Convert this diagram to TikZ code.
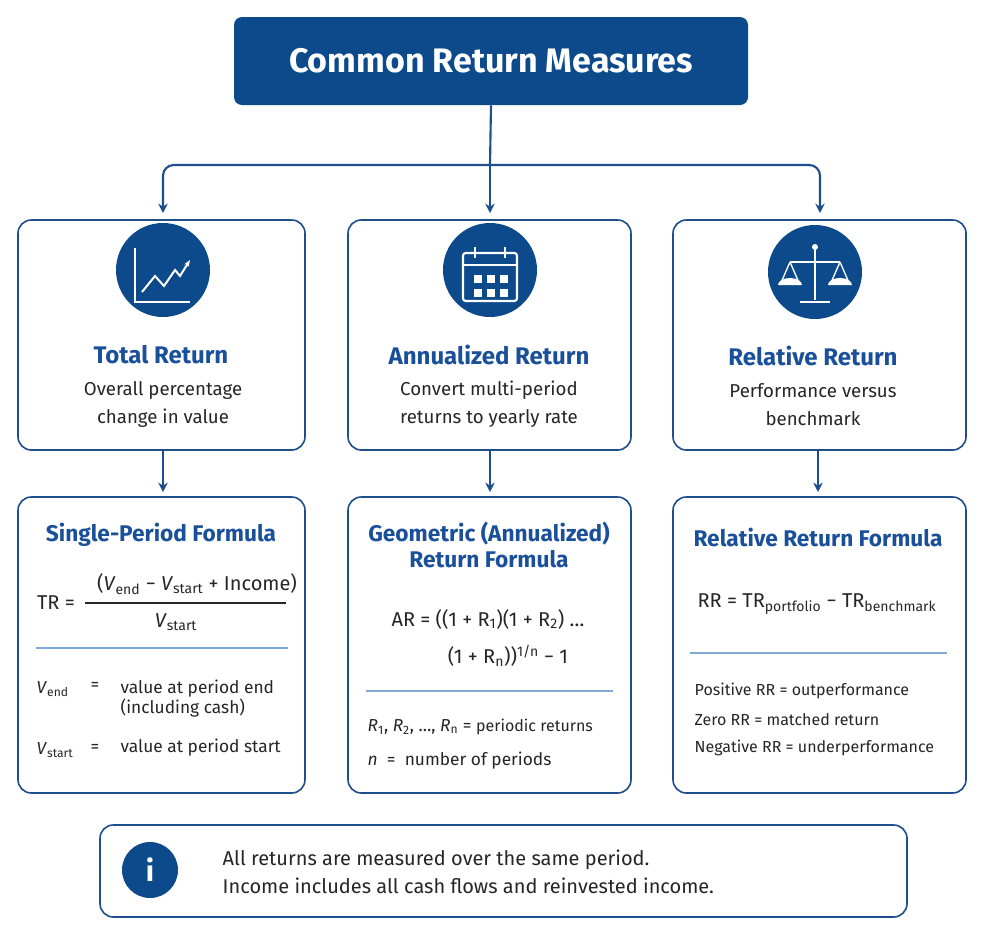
\documentclass[tikz,border=0pt]{standalone}
\usepackage{fontspec}
\setmainfont{Fira Sans}
\usetikzlibrary{arrows.meta}
\definecolor{navy}{HTML}{0D4A8C}
\definecolor{bord}{HTML}{1F4E8C}
\definecolor{ttl}{HTML}{1A4F9A}
\definecolor{rule}{HTML}{7FA9D6}
\begin{document}
\begin{tikzpicture}[x=0.75pt,y=-0.75pt,
 box/.style={draw=bord,line width=1.2pt,rounded corners=10pt,fill=white},
 conn/.style={draw=bord,line width=1.6pt,-{Stealth[length=7pt,width=7pt]}},
 ttlt/.style={font=\bfseries\fontsize{18}{20}\selectfont,text=ttl},
 sub/.style={font=\fontsize{14}{21}\selectfont,align=center,text=black!85},
 txt/.style={font=\fontsize{13}{15}\selectfont,text=black!85},
 icon/.style={circle,fill=navy,minimum size=70.5pt,inner sep=0pt}]
\useasboundingbox (0,0) rectangle (983,936);
\fill[white] (0,0) rectangle (983,936);
% title
\node[fill=navy,rounded corners=6pt,minimum width=385.5pt,minimum height=66pt,text=white,font=\bfseries\fontsize{25.5}{28}\selectfont] (title) at (491,61) {Common Return Measures};
% top boxes
\draw[box] (18,220) rectangle (305,450);
\draw[box] (348,220) rectangle (631,450);
\draw[box] (673,220) rectangle (966,450);
\coordinate (j) at (490,165);
\draw[draw=bord,line width=1.6pt,rounded corners=8pt] (title.south) -- (j);
\draw[conn,rounded corners=8pt] (j) -| (163,213);
\draw[conn,rounded corners=8pt] (j) -| (820,213);
\draw[conn] (j) -- (490,213);
% icons
\node[icon] (i1) at (163,270) {};
\node[icon] (i2) at (490,270) {};
\node[icon] (i3) at (815,272) {};
% chart icon
\draw[white,line width=1.5pt] (135,248) -- (135,302) -- (190,302);
\draw[white,line width=1.5pt,-{Stealth[length=5pt]}] (142,292) -- (155,276) -- (164,286) -- (175,270) -- (180,276) -- (190,260);
% calendar icon
\draw[white,line width=1.6pt,rounded corners=2pt] (463,253) rectangle (517,301);
\draw[white,line width=1.6pt] (463,265) -- (517,265);
\draw[white,line width=2pt] (475,247) -- (475,258) (505,247) -- (505,258);
\foreach \xx in {474,487,500} \foreach \yy in {275,289} \fill[white] (\xx,\yy) rectangle ++(8,8);
% scale icon
\draw[white,line width=1.6pt] (815,247) -- (815,300) (800,302) -- (830,302) (790,262) -- (840,262);
\fill[white] (815,247) circle (3);
\draw[white,line width=1pt] (790,262) -- (780,285) (790,262) -- (800,285) (840,262) -- (830,285) (840,262) -- (850,285);
\fill[white] (778,285) arc (180:360:12 and 7) -- cycle;
\fill[white] (828,285) arc (180:360:12 and 7) -- cycle;
% top text
\node[ttlt] (h1) at (161,355) {Total Return};
\node[sub] (s1) at (163,404) {Overall percentage\\change in value};
\node[ttlt] (h2) at (489,355) {Annualized Return};
\node[sub] (s2) at (489,404) {Convert multi-period\\returns to yearly rate};
\node[ttlt] (h3) at (813,356) {Relative Return};
\node[sub] (s3) at (813,405) {Performance versus\\benchmark};
% bottom boxes
\draw[box] (18,497) rectangle (305,793);
\draw[box] (348,497) rectangle (631,793);
\draw[box] (673,497) rectangle (966,793);
\draw[conn] (163,450) -- (163,492);
\draw[conn] (490,450) -- (490,492);
\draw[conn] (818,450) -- (818,492);
% left formula
\node[ttlt,font=\bfseries\fontsize{17}{20}\selectfont] (f1) at (161,535) {Single-Period Formula};
\node[txt,font=\fontsize{15}{18}\selectfont] (tr) at (56,603) {TR =};
\node[txt,font=\fontsize{15}{18}\selectfont] (num) at (197,584) {(\textit{V}\textsubscript{end} − \textit{V}\textsubscript{start} + Income)};
\draw[black!85,line width=0.8pt] (85,603) -- (286,603);
\node[txt,font=\fontsize{15}{18}\selectfont] (den) at (176,622) {\textit{V}\textsubscript{start}};
\draw[rule,line width=0.8pt] (36,648) -- (288,648);
\node[txt,anchor=west] (v1) at (32,689) {\textit{V}\textsubscript{end}};
\node[txt] at (95,686) {=};
\node[txt,anchor=west,align=left] (v1d) at (116,699) {value at period end\\(including cash)};
\node[txt,anchor=west] (v2) at (32,750) {\textit{V}\textsubscript{start}};
\node[txt] at (95,748) {=};
\node[txt,anchor=west] (v2d) at (116,748) {value at period start};
% middle formula
\node[ttlt,font=\bfseries\fontsize{17}{20}\selectfont,align=center] (f2) at (489,545) {Geometric (Annualized)\\Return Formula};
\node[txt,font=\fontsize{15}{18}\selectfont] (ar1) at (488,619) {AR = ((1 + R\textsubscript{1})(1 + R\textsubscript{2}) …};
\node[txt,font=\fontsize{15}{18}\selectfont] (ar2) at (508,656) {(1 + R\textsubscript{n}))\textsuperscript{1/n} − 1};
\draw[rule,line width=0.8pt] (366,691) -- (613,691);
\node[txt,anchor=west] (r) at (363,727) {\textit{R}\textsubscript{1}, \textit{R}\textsubscript{2}, …, \textit{R}\textsubscript{n} = {\fontsize{12}{14}\selectfont periodic returns}};
\node[txt,anchor=west] (nn) at (363,761) {\textit{n} \ = \ number of periods};
% right formula
\node[ttlt,font=\bfseries\fontsize{17}{20}\selectfont] (f3) at (818,537) {Relative Return Formula};
\node[txt,font=\fontsize{15}{18}\selectfont] (rr) at (817,604) {RR = TR\textsubscript{portfolio} − TR\textsubscript{benchmark}};
\draw[rule,line width=0.8pt] (690,653) -- (947,653);
\node[txt,anchor=west,font=\fontsize{12}{14}\selectfont] (p1) at (690,691) {Positive RR = outperformance};
\node[txt,anchor=west,font=\fontsize{12}{14}\selectfont] (p2) at (690,720) {Zero RR = matched return};
\node[txt,anchor=west,font=\fontsize{12}{14}\selectfont] (p3) at (690,748) {Negative RR = underperformance};
% info box
\draw[box] (100,825) rectangle (907,917);
\node[circle,fill=navy,minimum size=42pt,inner sep=0pt,text=white,font=\bfseries\fontsize{22}{24}\selectfont] (ii) at (150,870) {i};
\node[txt,anchor=west,align=left,font=\fontsize{15}{21}\selectfont] (info) at (218,872) {All returns are measured over the same period.\\Income includes all cash flows and reinvested income.};
\end{tikzpicture}
\end{document}
